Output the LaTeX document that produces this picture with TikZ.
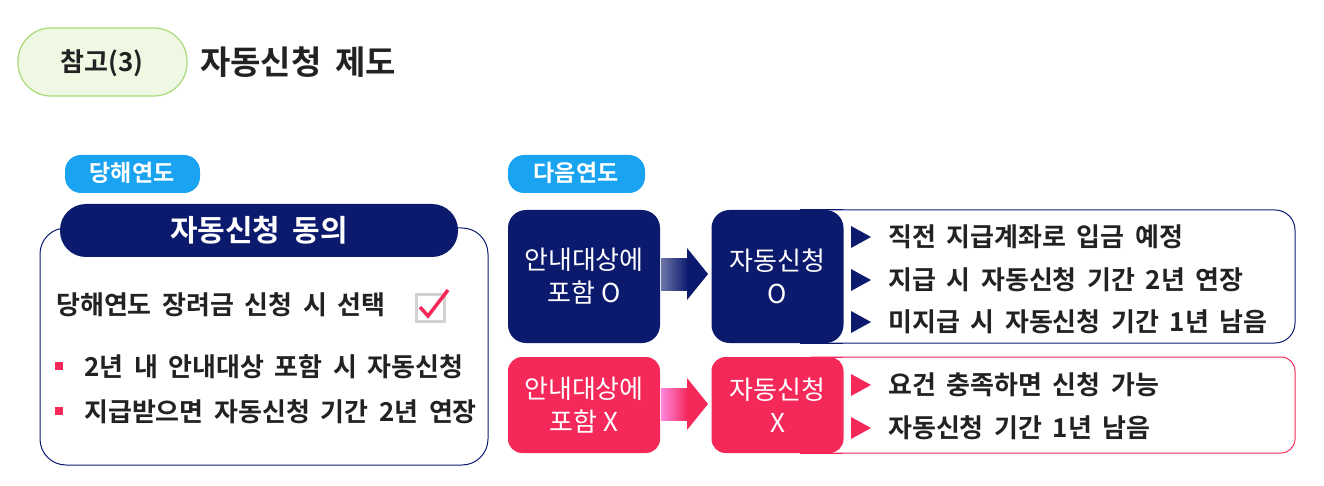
\documentclass[tikz,border=0pt]{standalone}
\usepackage{fontspec}
\setmainfont{Noto Sans CJK KR}
\newfontfamily\kb[WordSpace={1.8}]{Noto Sans CJK KR Bold}
\definecolor{navy}{HTML}{0C1A6E}
\definecolor{pinkc}{HTML}{F5285A}
\definecolor{skyb}{HTML}{1AA3F0}
\definecolor{gfill}{HTML}{EFF8E3}
\definecolor{gline}{HTML}{A9D977}
\definecolor{txt}{HTML}{222222}
\tikzset{
 pill/.style={fill=skyb,rounded corners=16pt},
 navybox/.style={fill=navy,rounded corners=18pt,text=white,align=center,font=\fontsize{26}{33}\selectfont},
 pinkbox/.style={fill=pinkc,rounded corners=14pt,text=white,align=center,font=\fontsize{26}{33}\selectfont},
 item/.style={anchor=west,text=txt,font=\kb\fontsize{26}{26}\selectfont,inner sep=0pt},
}
\begin{document}
\begin{tikzpicture}[x=1pt,y=-1pt]
\useasboundingbox (0,0) rectangle (1324,486);
% title
\draw[fill=gfill,draw=gline,line width=1.2pt,rounded corners=33pt] (18,28) rectangle (187,96);
\node[text=txt,font=\kb\fontsize{26}{26}\selectfont] (t1) at (102,63) {참고(3)};
\node[anchor=west,text=txt,font=\kb\fontsize{33}{33}\selectfont,inner sep=0pt] (t2) at (200,62) {자동신청 제도};
% year pills
\fill[pill] (65,155) rectangle (200,193);
\node[text=white,font=\kb\fontsize{23}{23}\selectfont] (y1) at (132,173) {당해연도};
\fill[pill] (508,155) rectangle (645,193);
\node[text=white,font=\kb\fontsize{23}{23}\selectfont] (y2) at (576,173) {다음연도};
% left box
\draw[navy,line width=1pt,rounded corners=26pt,fill=white] (40,228) rectangle (488,465);
\fill[navy,rounded corners=26pt] (60,204) rectangle (458,257);
\node[text=white,font=\kb\fontsize{30}{30}\selectfont] (h) at (259,230) {자동신청 동의};
\node[item] (l1) at (56,305) {당해연도 장려금 신청 시 선택};
\fill[gray!35] (415,293) rectangle (446,323);
\fill[white] (418,296) rectangle (443,320);
\draw[pinkc,line width=3.5pt] (420,307) -- (428,316) -- (448,290);
\fill[pinkc] (55,362) rectangle (63,370);
\fill[pinkc] (55,407) rectangle (63,415);
\node[item] (l2) at (84,367) {2년 내 안내대상 포함 시 자동신청};
\node[item] (l3) at (84,412) {지급받으면 자동신청 기간 2년 연장};
% navy row
\draw[navy,line width=1pt,rounded corners=20pt] (800,210) rectangle (1295,343);
\fill[white] (798,212) rectangle (843,341);
\draw[navy,line width=1pt] (800,210) -- (843,210) (800,343) -- (843,343);
\node[navybox,minimum width=152pt,minimum height=133pt] (a1) at (584,276.5) {안내대상에\\포함 O};
\node[navybox,minimum width=132pt,minimum height=133pt] (b1) at (777.5,276.5) {자동신청\\O};
\shade[left color=navy!60,right color=navy] (661,258) rectangle (688,290);
\fill[navy] (687,248) -- (708,274) -- (687,300) -- cycle;
\foreach \yy/\tt in {237/직전 지급계좌로 입금 예정,280/지급 시 자동신청 기간 2년 연장,322/미지급 시 자동신청 기간 1년 남음}{
 \fill[navy] (851,\yy-11) -- (871,\yy) -- (851,\yy+11) -- cycle;
 \node[item] at (888,\yy) {\tt};
}
% pink row
\draw[pinkc,line width=1pt,rounded corners=14pt] (800,357) rectangle (1295,453);
\fill[white] (798,359) rectangle (843,451);
\draw[pinkc,line width=1pt] (800,357) -- (843,357) (800,453) -- (843,453);
\node[pinkbox,minimum width=152pt,minimum height=96pt] (a2) at (584,405) {안내대상에\\포함 X};
\node[pinkbox,minimum width=132pt,minimum height=96pt] (b2) at (777.5,405) {자동신청\\X};
\shade[left color=pinkc!40!magenta!50,right color=pinkc] (661,388) rectangle (688,420);
\fill[pinkc] (687,378) -- (708,404) -- (687,430) -- cycle;
\foreach \yy/\tt in {385/요건 충족하면 신청 가능,428/자동신청 기간 1년 남음}{
 \fill[pinkc] (851,\yy-11) -- (871,\yy) -- (851,\yy+11) -- cycle;
 \node[item] at (888,\yy) {\tt};
}
\end{tikzpicture}
\end{document}
